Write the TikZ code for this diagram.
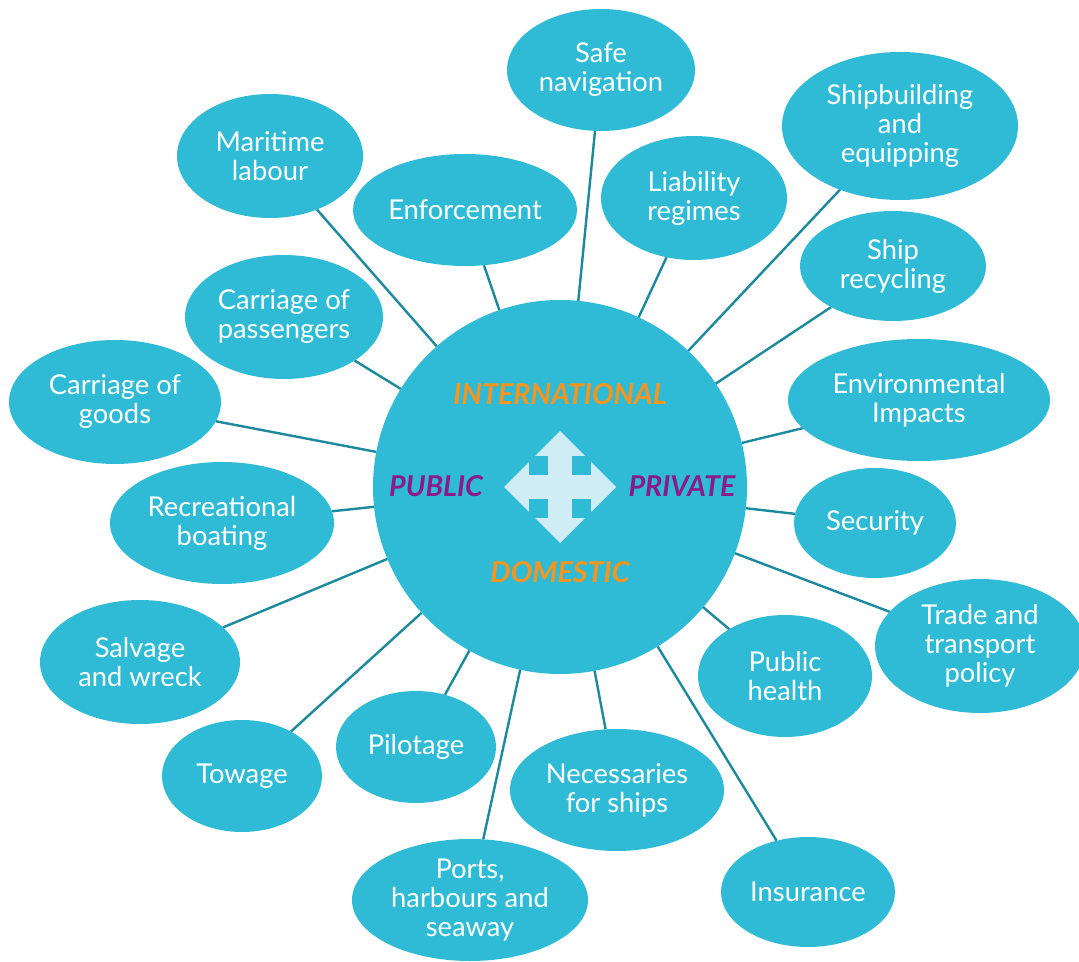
\documentclass[tikz,border=0pt]{standalone}
\usepackage{fontspec}
\setmainfont{Lato}
\usetikzlibrary{shapes.geometric,backgrounds}
\definecolor{bubblecol}{RGB}{47,187,214}
\definecolor{spokecol}{RGB}{28,137,158}
\definecolor{arrowcol}{RGB}{208,236,244}
\definecolor{intlcol}{RGB}{247,148,29}
\definecolor{sectorcol}{RGB}{138,27,136}

\begin{document}
\begin{tikzpicture}[x=0.75pt,y=0.75pt,yscale=-1,xscale=1,
  bubble/.style={ellipse,fill=bubblecol,inner sep=0pt,outer sep=0pt,text=white,align=center,font=\fontsize{20.5}{21.75}\selectfont},
  hub/.style={circle,fill=bubblecol,inner sep=0pt,outer sep=0pt,minimum size=280.5pt},
  spoke/.style={draw=spokecol,line width=1.8pt},
  axislabel/.style={inner sep=0pt,font=\fontsize{21.5}{24}\selectfont\bfseries\itshape}]
\useasboundingbox (0,0) rectangle (1079,962);
%Shape: Circle
\node[hub] (hub) at (560,487) {};
%Shape: Ellipse
\node[bubble,minimum width=141pt,minimum height=91.5pt] (safenav) at (601,70) {Safe\\navigation};
%Shape: Ellipse
\node[bubble,minimum width=177pt,minimum height=111pt] (shipbuild) at (900,126) {Shipbuilding\\and\\equipping};
%Shape: Ellipse
\node[bubble,minimum width=139.5pt,minimum height=93pt] (maritime) at (270,156) {Maritime\\labour};
%Shape: Ellipse
\node[bubble,minimum width=168pt,minimum height=84pt] (enforce) at (465,210) {Enforcement};
%Shape: Ellipse
\node[bubble,minimum width=139.5pt,minimum height=93pt] (liability) at (694,198) {Liability\\regimes};
%Shape: Ellipse
\node[bubble,minimum width=139.5pt,minimum height=82.5pt] (recycling) at (893,266) {Ship\\recycling};
%Shape: Ellipse
\node[bubble,minimum width=148.5pt,minimum height=93pt] (passengers) at (284,317) {Carriage of\\passengers};
%Shape: Ellipse
\node[bubble,minimum width=159pt,minimum height=93pt] (goods) at (115,402) {Carriage of\\goods};
%Shape: Ellipse
\node[bubble,minimum width=196.5pt,minimum height=91.5pt] (environ) at (919,400) {Environmental\\Impacts};
%Shape: Ellipse
\node[bubble,minimum width=168pt,minimum height=91.5pt] (recreation) at (222,523) {Recreational\\boating};
%Shape: Ellipse
\node[bubble,minimum width=121.5pt,minimum height=82.5pt] (security) at (875,523) {Security};
%Shape: Ellipse
\node[bubble,minimum width=157.5pt,minimum height=100.5pt] (trade) at (980,646) {Trade and\\transport\\policy};
%Shape: Ellipse
\node[bubble,minimum width=130.5pt,minimum height=91.5pt] (health) at (785,676) {Public\\health};
%Shape: Ellipse
\node[bubble,minimum width=150pt,minimum height=93pt] (salvage) at (140,662) {Salvage\\and wreck};
%Shape: Ellipse
\node[bubble,minimum width=120pt,minimum height=84pt] (towage) at (242,776) {Towage};
%Shape: Ellipse
\node[bubble,minimum width=120pt,minimum height=84pt] (pilotage) at (416,747) {Pilotage};
%Shape: Ellipse
\node[bubble,minimum width=160.5pt,minimum height=91.5pt] (necessaries) at (617,790) {Necessaries\\for ships};
%Shape: Ellipse
\node[bubble,minimum width=130.5pt,minimum height=82.5pt] (insurance) at (808,892) {Insurance};
%Shape: Ellipse
\node[bubble,minimum width=177pt,minimum height=91.5pt] (ports) at (470,900) {Ports,\\harbours and\\seaway};

%Straight Lines
\begin{scope}[on background layer]
\draw[spoke] (hub) -- (safenav);
\draw[spoke] (hub) -- (shipbuild);
\draw[spoke] (hub) -- (maritime);
\draw[spoke] (hub) -- (enforce);
\draw[spoke] (hub) -- (liability);
\draw[spoke] (hub) -- (recycling);
\draw[spoke] (hub) -- (passengers);
\draw[spoke] (hub) -- (goods);
\draw[spoke] (hub) -- (environ);
\draw[spoke] (hub) -- (recreation);
\draw[spoke] (hub) -- (security);
\draw[spoke] (hub) -- (trade);
\draw[spoke] (hub) -- (health);
\draw[spoke] (hub) -- (salvage);
\draw[spoke] (hub) -- (towage);
\draw[spoke] (hub) -- (pilotage);
\draw[spoke] (hub) -- (necessaries);
\draw[spoke] (hub) -- (insurance);
\draw[spoke] (hub) -- (ports);
\end{scope}

%Shape: Diamond
\fill[arrowcol] (560,431) -- (616,487) -- (560,543) -- (504,487) -- cycle;
%Shape: Square
\fill[bubblecol] (529,456) rectangle (548,475);
\fill[bubblecol] (572,456) rectangle (591,475);
\fill[bubblecol] (529,499) rectangle (548,518);
\fill[bubblecol] (572,499) rectangle (591,518);

% Text Node
\node[axislabel,text=intlcol] (intl) at (560,394) {INTERNATIONAL};
% Text Node
\node[axislabel,text=intlcol] (domestic) at (560,572) {DOMESTIC};
% Text Node
\node[axislabel,text=sectorcol] (public) at (436,486) {PUBLIC};
% Text Node
\node[axislabel,text=sectorcol] (private) at (682,486) {PRIVATE};
\end{tikzpicture}
\end{document}
